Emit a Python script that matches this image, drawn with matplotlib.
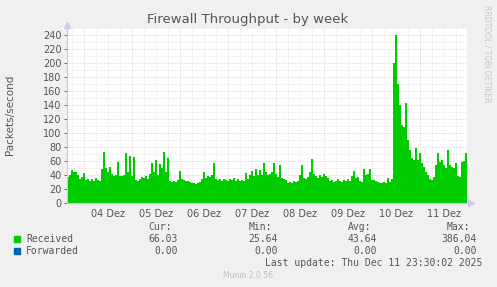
import numpy as np
import matplotlib
matplotlib.use("Agg")
import matplotlib.pyplot as plt

# ---------------- data ----------------
title = "Firewall Throughput - by week"
ylabel = "Packets/second"
day_labels = ["04 Dez", "05 Dez", "06 Dez", "07 Dez", "08 Dez", "09 Dez", "10 Dez", "11 Dez"]
start_hour = -8.5  # hours relative to 04 Dez 00:00
# hourly received packets/second
received = [
    37, 40, 47, 44, 45, 40, 35, 37, 43, 33, 35, 32, 34, 31, 36, 33, 31, 48, 73, 50,
    44, 52, 42, 38, 40, 59, 39, 38, 40, 71, 45, 67, 38, 66, 33, 32, 35, 37, 36, 38,
    35, 42, 57, 45, 62, 40, 56, 50, 73, 45, 64, 31, 30, 31, 30, 33, 46, 34, 33, 31,
    32, 30, 29, 28, 27, 28, 30, 34, 45, 36, 38, 37, 40, 57, 34, 33, 35, 32, 34, 33,
    31, 35, 33, 36, 32, 34, 31, 33, 32, 43, 34, 40, 46, 38, 48, 40, 47, 40, 57, 44,
    40, 42, 44, 57, 42, 37, 55, 36, 34, 33, 29, 30, 28, 31, 30, 32, 40, 54, 36, 35,
    37, 45, 63, 42, 38, 36, 40, 37, 42, 38, 36, 32, 33, 30, 31, 34, 32, 30, 33, 31,
    34, 32, 38, 46, 36, 37, 31, 30, 49, 40, 42, 49, 33, 33, 32, 30, 29, 29, 30, 29,
    36, 30, 34, 200, 240, 170, 140, 112, 108, 143, 90, 76, 65, 61, 78, 61, 71, 57, 52, 45,
    40, 35, 33, 37, 55, 71, 58, 61, 55, 50, 76, 55, 52, 50, 57, 38, 37, 58, 60, 71,
]
forwarded = [0.0] * len(received)

legend_names = ["Received", "Forwarded"]
legend_colors = ["#00CC00", "#0066B3"]
stat_headers = ["Cur:", "Min:", "Avg:", "Max:"]
stats_received = ["66.03", "25.64", "43.64", "386.04"]
stats_forwarded = ["0.00", "0.00", "0.00", "0.00"]
last_update = "Last update: Thu Dec 11 23:30:02 2025"
footer = "Munin 2.0.56"
side_text = "RRDTOOL / TOBI OETIKER"

# ---------------- figure ----------------
W, H = 497, 287
fig = plt.figure(figsize=(W / 100, H / 100), dpi=100, facecolor="#F0F0F0")
x0, x1, ytop, ybot = 67, 467, 28, 203
ax = fig.add_axes([x0 / W, (H - ybot) / H, (x1 - x0) / W, (ybot - ytop) / H])
ax.set_facecolor("white")

n = len(received)
t = start_hour + np.arange(n + 1)
vals = np.array(received + [received[-1]], dtype=float)
ax.fill_between(t, 0, vals, step="post", color=legend_colors[0], linewidth=0, zorder=3)
fw = np.array(forwarded + [forwarded[-1]], dtype=float)
ax.step(t, fw, where="post", color=legend_colors[1], linewidth=0.8, zorder=3)

ax.set_xlim(start_hour, start_hour + n)
ax.set_ylim(0, 250)

# grid
minor_col = "#D8D8D8"
major_col = "#E6B4B4"
for h in np.arange(-6, start_hour + n, 6):
    col = major_col if h % 24 == 0 else minor_col
    ax.axvline(h, color=col, linestyle=(0, (1, 1.5)), linewidth=0.5, zorder=1)
for v in np.arange(10, 251, 10):
    col = major_col if v % 20 == 0 else minor_col
    ax.axhline(v, color=col, linestyle=(0, (1, 1.5)), linewidth=0.5, zorder=1)

for s in ax.spines.values():
    s.set_visible(False)

# axes lines with arrows
axis_col = "#C8C8F0"
ax.plot([start_hour, start_hour], [0, 250], color=axis_col, lw=0.8, clip_on=False, zorder=4)
ax.plot([start_hour, start_hour + n + 1], [0, 0], color=axis_col, lw=0.8, clip_on=False, zorder=4)
ax.plot([start_hour], [254], marker="^", color=axis_col, ms=4, clip_on=False, zorder=4)
ax.plot([start_hour + n + 2], [0], marker=">", color=axis_col, ms=4, clip_on=False, zorder=4)

ax.set_yticks(np.arange(0, 241, 20))
ax.set_xticks(np.arange(12, 12 + 24 * len(day_labels), 24))
ax.set_xticklabels(day_labels)
ax.tick_params(axis="both", labelsize=7, colors="#555555", length=2, width=0.6, pad=2)
ax.tick_params(axis="x", length=0, pad=4)

fig.text(248 / W, 1 - 19 / H, title, ha="center", va="center", fontsize=9.5, color="#555555")
fig.text(10 / W, 1 - 115 / H, ylabel, ha="center", va="center", rotation=90, fontsize=7.5, color="#555555")
fig.text(487 / W, 1 - 5 / H, side_text, ha="center", va="top", rotation=-90, fontsize=5.5, color="#C8C8C8")

mono = "DejaVu Sans Mono"
fs = 7
tc = "#555555"
hdr_right = [172, 272, 371, 470]
val_right = [178, 278, 377, 477]
for hx, h in zip(hdr_right, stat_headers):
    fig.text(hx / W, 1 - 227 / H, h, ha="right", va="center", family=mono, fontsize=fs, color=tc)
rows_y = [239, 251]
for ry, name, colr, st in zip(rows_y, legend_names, legend_colors, [stats_received, stats_forwarded]):
    fig.patches.append(plt.Rectangle((14 / W, 1 - (ry + 3) / H), 6 / W, 6 / H,
                                     transform=fig.transFigure, color=colr, figure=fig))
    fig.text(26 / W, 1 - ry / H, name, ha="left", va="center", family=mono, fontsize=fs, color=tc)
    for vx, s in zip(val_right, st):
        fig.text(vx / W, 1 - ry / H, s, ha="right", va="center", family=mono, fontsize=fs, color=tc)
fig.text(482 / W, 1 - 263 / H, last_update, ha="right", va="center", family=mono, fontsize=fs, color=tc)
fig.text(248 / W, 1 - 276 / H, footer, ha="center", va="center", fontsize=5.5, color="#C0C0C0")

fig.savefig("out.png", dpi=100, facecolor=fig.get_facecolor())
